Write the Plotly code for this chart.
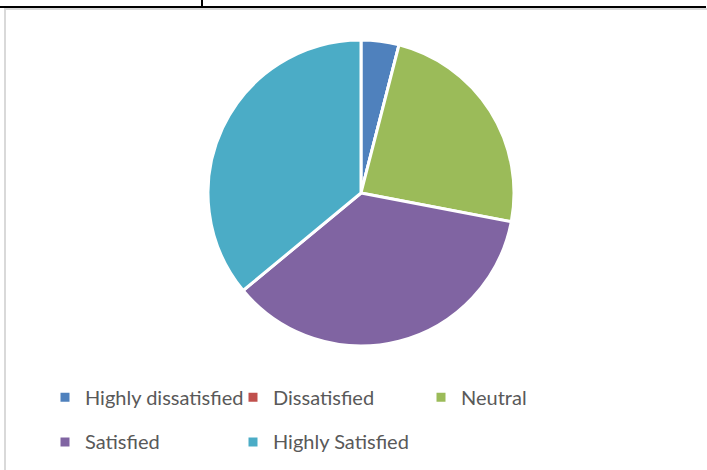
import plotly.graph_objects as go

W, H = 707, 470

# survey answers (count of respondents)
labels = ["Highly dissatisfied", "Dissatisfied", "Neutral", "Satisfied", "Highly Satisfied"]
counts = [2, 0, 12, 18, 18]
colors = ["#4F81BD", "#C0504D", "#9BBB59", "#8064A2", "#4BACC6"]

TEXT_COLOR = "#595959"
FRAME_COLOR = "#D9D9D9"


def px(x):
    return x / W


def py(y):
    return 1 - y / H


# legend rows in the original are far apart: use a big legend font for row height
# and draw the text itself at a normal size (lifted a bit to sit on the marker)
legend_labels = [
    f"<span style='font-size:20px;baseline-shift:5px'>{lab}</span>" for lab in labels
]

fig = go.Figure()

fig.add_trace(go.Pie(
    labels=legend_labels,
    values=counts,
    sort=False,
    direction="clockwise",
    rotation=0,
    textinfo="none",
    hovertemplate="%{customdata}: %{value} (%{percent})<extra></extra>",
    customdata=labels,
    marker=dict(colors=colors, line=dict(color="white", width=3)),
    domain=dict(x=[px(361 - 153), px(361 + 153)], y=[py(193 + 153), py(193 - 153)]),
))

# frame of the embedded chart + table lines above it
shapes = [
    dict(type="rect", x0=px(5), x1=px(715), y0=py(480), y1=py(9),
         line=dict(color=FRAME_COLOR, width=2)),
    dict(type="line", x0=0, x1=px(706), y0=py(7), y1=py(7),
         line=dict(color="black", width=2)),
    dict(type="line", x0=px(202), x1=px(202), y0=py(0), y1=py(7),
         line=dict(color="black", width=2)),
]

fig.update_layout(
    width=W,
    height=H,
    margin=dict(l=0, r=0, t=0, b=0),
    paper_bgcolor="white",
    plot_bgcolor="white",
    font=dict(family="Lato, Arial", color=TEXT_COLOR),
    showlegend=True,
    legend=dict(
        orientation="h",
        x=px(45), xanchor="left",
        y=py(370), yanchor="top",
        entrywidth=143,
        entrywidthmode="pixels",
        font=dict(size=32, color=TEXT_COLOR),
        traceorder="normal",
    ),
    shapes=shapes,
)

fig.write_html(
    "out.html",
    config={"displayModeBar": False},
    post_script="document.body.style.margin = '0';",
)
